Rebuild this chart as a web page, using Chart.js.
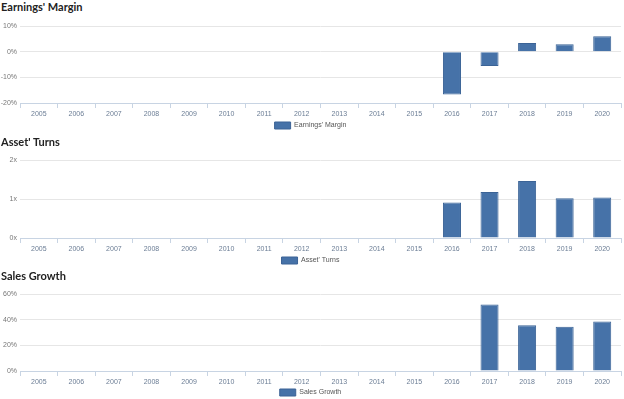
<!DOCTYPE html>
<html lang="en">
<head>
    <meta charset="UTF-8">
    <title>Earnings' Margin, Asset' Turns, Sales Growth</title>
    <script src="https://cdn.jsdelivr.net/npm/chart.js"></script>
    <style>
        body {
            margin: 0;
            width: 624px;
            height: 399px;
            background: #fff;
            position: relative;
            overflow: hidden;
            font-family: Lato, "Open Sans", sans-serif;
        }
        .title {
            position: absolute;
            left: 1px;
            font-size: 11px;
            font-weight: bold;
            color: #222;
        }
        .box {
            position: absolute;
            left: 0;
            width: 624px;
        }
    </style>
</head>
<body>
    <div class="title" style="top:0px">Earnings' Margin</div>
    <div class="box" style="top:16px;height:123px"><canvas id="margin"></canvas></div>
    <div class="title" style="top:135px">Asset' Turns</div>
    <div class="box" style="top:150px;height:124px"><canvas id="turns"></canvas></div>
    <div class="title" style="top:269px">Sales Growth</div>
    <div class="box" style="top:284px;height:122px"><canvas id="growth"></canvas></div>

    <script>
        const years = ['2005', '2006', '2007', '2008', '2009', '2010', '2011', '2012',
                       '2013', '2014', '2015', '2016', '2017', '2018', '2019', '2020'];
        const earningsMargin = [null, null, null, null, null, null, null, null,
                                null, null, null, -16.7, -5.6, 3.4, 2.9, 6.0];
        const assetTurns = [null, null, null, null, null, null, null, null,
                            null, null, null, 0.91, 1.18, 1.46, 1.02, 1.04];
        const salesGrowth = [null, null, null, null, null, null, null, null,
                             null, null, null, null, 51.9, 35.6, 34.5, 38.5];

        Chart.defaults.font.family = '"Liberation Sans", Arial, sans-serif';
        Chart.defaults.font.size = 7;
        Chart.defaults.animation = false;

        function makeChart(id, label, data, min, max, step, fmt, legendPad) {
            return new Chart(document.getElementById(id), {
                type: 'bar',
                data: {
                    labels: years,
                    datasets: [{
                        label: label,
                        data: data,
                        backgroundColor: '#4672a8',
                        borderColor: '#3b6396',
                        borderWidth: 1,
                        barPercentage: 0.48,
                        categoryPercentage: 1
                    }]
                },
                options: {
                    responsive: true,
                    maintainAspectRatio: false,
                    layout: { padding: { top: 10, right: 3, bottom: 0, left: 0 } },
                    plugins: {
                        legend: {
                            position: 'bottom',
                            labels: {
                                boxWidth: 16,
                                boxHeight: 7,
                                padding: legendPad,
                                color: '#555',
                                font: { size: 7 }
                            }
                        },
                        tooltip: { enabled: false }
                    },
                    scales: {
                        x: {
                            grid: {
                                offset: true,
                                drawOnChartArea: false,
                                tickLength: 5,
                                color: '#c8d4e3'
                            },
                            border: { color: '#c8d4e3' },
                            ticks: { color: '#6b7d95', padding: 2, maxRotation: 0, autoSkip: false },
                            afterFit: s => { s.height = 16; }
                        },
                        y: {
                            min: min,
                            max: max,
                            grid: { color: '#e6e6e6', drawTicks: false },
                            border: { display: false },
                            ticks: {
                                stepSize: step,
                                color: '#777',
                                padding: 3,
                                callback: v => fmt(v)
                            },
                            afterFit: s => { s.width = 20; }
                        }
                    }
                }
            });
        }

        makeChart('margin', "Earnings' Margin", earningsMargin, -20, 10, 10, v => v + '%', 3);
        makeChart('turns', "Asset' Turns", assetTurns, 0, 2, 1, v => v + 'x', 3);
        makeChart('growth', 'Sales Growth', salesGrowth, 0, 60, 20, v => v + '%', 2);
    </script>
</body>
</html>
